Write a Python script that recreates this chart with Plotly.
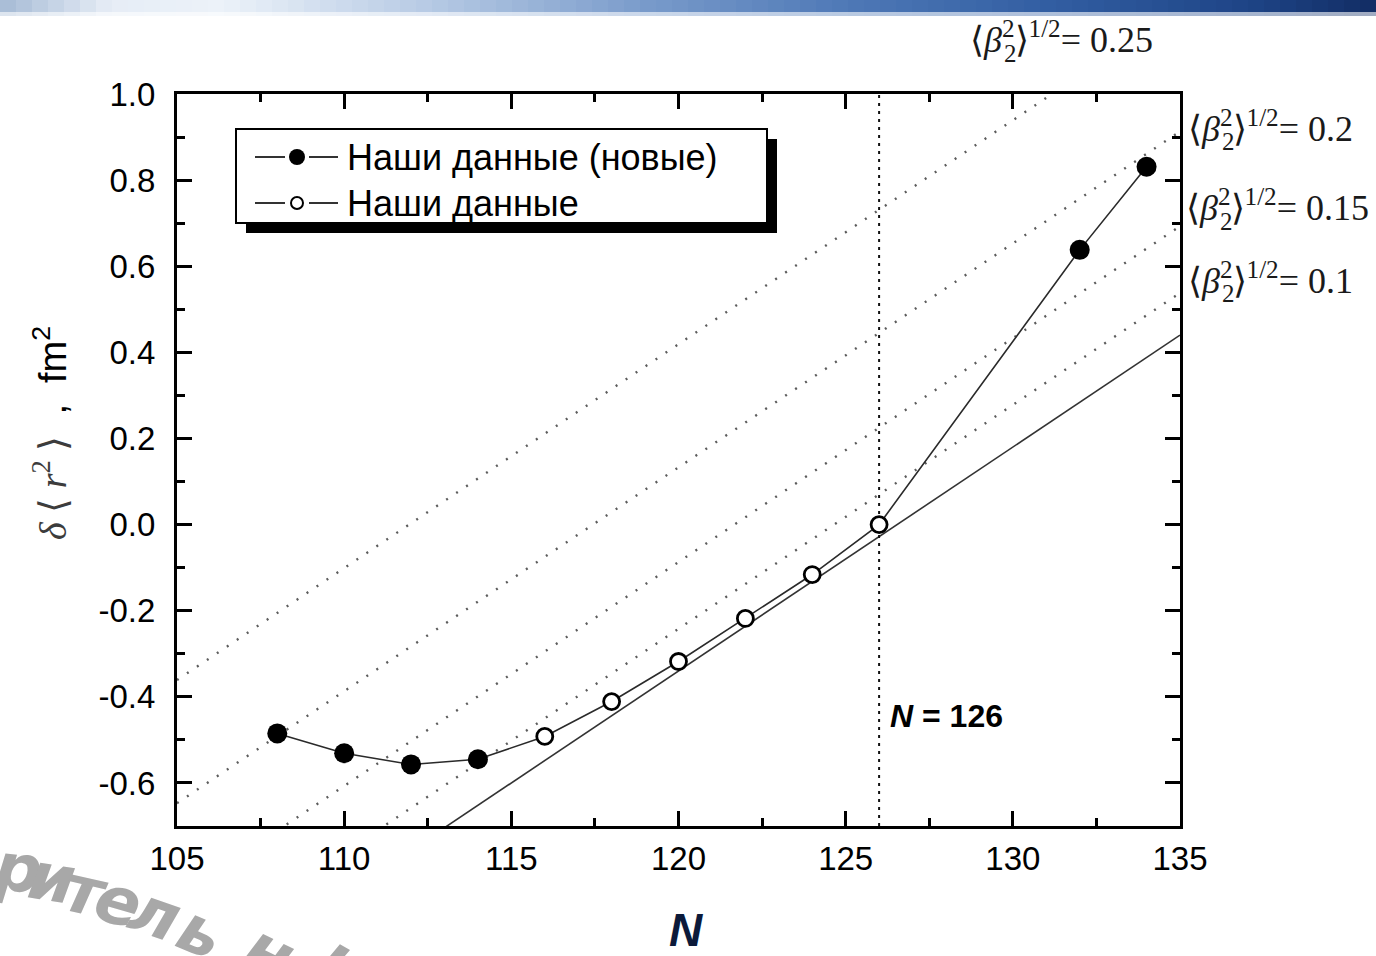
import plotly.graph_objects as go

# ---------------- data ----------------
N_filled = [108, 110, 112, 114, 132, 134]
dr2_filled = [-0.485, -0.531, -0.557, -0.545, 0.638, 0.831]

N_open = [116, 118, 120, 122, 124, 126]
dr2_open = [-0.492, -0.411, -0.318, -0.218, -0.116, 0.000]

N_all = [108, 110, 112, 114, 116, 118, 120, 122, 124, 126, 132, 134]
dr2_all = [-0.485, -0.531, -0.557, -0.545, -0.492, -0.411, -0.318, -0.218, -0.116, 0.000, 0.638, 0.831]

# droplet-model line (beta = 0) and deformation lines, given at N = 105 and 135
N_line = [105, 135]
drop_line = [-1.120, 0.440]
beta_labels = ["0.1", "0.15", "0.2", "0.25"]
beta_lines = {
    "0.1": [-1.022, 0.538],
    "0.15": [-0.867, 0.693],
    "0.2": [-0.647, 0.913],
    "0.25": [-0.361, 1.199],
}

x_ticks = [105, 110, 115, 120, 125, 130, 135]
y_ticks = [-0.6, -0.4, -0.2, 0.0, 0.2, 0.4, 0.6, 0.8, 1.0]
y_ticktext = ["-0.6", "-0.4", "-0.2", "0.0", "0.2", "0.4", "0.6", "0.8", "1.0"]

legend_names = ["Наши данные (новые)", "Наши данные"]
magic_N = 126
watermark = "рительны"

# ---------------- layout helpers ----------------
W, H = 1376, 956
L, R, T, B = 177, 1180, 94, 826


def px(x):
    return (x - L) / (R - L)


def py(y):
    return (B - y) / (B - T)


SANS = "Liberation Sans, Arial, sans-serif"
SERIF = "Liberation Serif, Times New Roman, serif"

fig = go.Figure()

# dotted deformation lines
for b in beta_labels:
    fig.add_trace(go.Scatter(x=N_line, y=beta_lines[b], mode="lines",
                             line=dict(color="#5c5c5c", width=2.4, dash="2px,10px"),
                             showlegend=False, hoverinfo="skip"))
# droplet line
fig.add_trace(go.Scatter(x=N_line, y=drop_line, mode="lines",
                         line=dict(color="#333333", width=1.6),
                         showlegend=False, hoverinfo="skip"))
# N = 126 vertical line
fig.add_trace(go.Scatter(x=[magic_N, magic_N], y=[-0.7, 1.0], mode="lines",
                         line=dict(color="#111111", width=2, dash="3px,5px"),
                         showlegend=False, hoverinfo="skip"))
# connecting line
fig.add_trace(go.Scatter(x=N_all, y=dr2_all, mode="lines",
                         line=dict(color="#2a2a2a", width=1.6),
                         showlegend=False, hoverinfo="skip"))
fig.add_trace(go.Scatter(x=N_filled, y=dr2_filled, mode="markers", name=legend_names[0],
                         marker=dict(size=20, color="black", line=dict(width=0)),
                         showlegend=False))
fig.add_trace(go.Scatter(x=N_open, y=dr2_open, mode="markers", name=legend_names[1],
                         marker=dict(size=16, color="white", line=dict(width=2.8, color="black")),
                         showlegend=False))

shapes = []
# top banner gradient
stops = [(0, (165, 186, 213)), (110, (230, 237, 246)), (220, (236, 242, 249)),
         (420, (185, 204, 229)), (650, (120, 154, 202)), (850, (78, 120, 182)),
         (1050, (50, 94, 162)), (1250, (30, 68, 134)), (1376, (18, 45, 100))]


def col_at(x):
    for (x0, c0), (x1, c1) in zip(stops[:-1], stops[1:]):
        if x0 <= x <= x1:
            t = (x - x0) / (x1 - x0)
            return tuple(int(round(c0[i] + (c1[i] - c0[i]) * t)) for i in range(3))
    return stops[-1][1]


nseg = 86
for i in range(nseg):
    xa = i * W / nseg
    xb = (i + 1) * W / nseg + 0.5
    c = col_at((xa + xb) / 2)
    shapes.append(dict(type="rect", xref="paper", yref="paper", x0=px(xa), x1=px(xb),
                       y0=py(12), y1=py(0), fillcolor="rgb(%d,%d,%d)" % c,
                       line=dict(width=0), layer="below"))
    c2 = tuple(int(round(v + (255 - v) * 0.6)) for v in c)
    shapes.append(dict(type="rect", xref="paper", yref="paper", x0=px(xa), x1=px(xb),
                       y0=py(16), y1=py(12), fillcolor="rgb(%d,%d,%d)" % c2,
                       line=dict(width=0), layer="below"))

# manual legend with shadow
shapes.append(dict(type="rect", xref="paper", yref="paper", x0=px(246), x1=px(777),
                   y0=py(233), y1=py(139), fillcolor="black", line=dict(width=0), layer="above"))
shapes.append(dict(type="rect", xref="paper", yref="paper", x0=px(236), x1=px(767),
                   y0=py(223), y1=py(129), fillcolor="white",
                   line=dict(width=2, color="black"), layer="above"))
for yy in (157, 203):
    for xa, xb in ((255, 285), (309, 338)):
        shapes.append(dict(type="line", xref="paper", yref="paper", x0=px(xa), x1=px(xb),
                           y0=py(yy), y1=py(yy), line=dict(width=1.6, color="black"),
                           layer="above"))
shapes.append(dict(type="circle", xref="paper", yref="paper", xsizemode="pixel",
                   ysizemode="pixel", xanchor=px(297), yanchor=py(157),
                   x0=-8, x1=8, y0=-8, y1=8, fillcolor="black",
                   line=dict(width=0), layer="above"))
shapes.append(dict(type="circle", xref="paper", yref="paper", xsizemode="pixel",
                   ysizemode="pixel", xanchor=px(297), yanchor=py(203),
                   x0=-6, x1=6, y0=-6, y1=6, fillcolor="white",
                   line=dict(width=2, color="black"), layer="above"))

annotations = []
for name, yy in zip(legend_names, (157, 203)):
    annotations.append(dict(text=name, xref="paper", yref="paper", x=px(345), y=py(yy),
                            xanchor="left", yanchor="middle", showarrow=False,
                            font=dict(family=SANS, size=36, color="black")))

# beta labels: <beta_2^2>^{1/2} with stacked sub/superscript
beta_pos = {"0.25": (968, 38), "0.2": (1186, 126), "0.15": (1184, 206), "0.1": (1186, 278)}
for b in beta_labels:
    xx, yy = beta_pos[b]
    annotations.append(dict(
        text="⟨<i>β</i><sup>2</sup>⟩<sup>1/2</sup>= " + b,
        xref="paper", yref="paper", x=px(xx), y=py(yy), xanchor="left", yanchor="middle",
        showarrow=False, font=dict(family=SERIF, size=36, color="#1a1a1a")))
    annotations.append(dict(
        text="2", xref="paper", yref="paper", x=px(xx + 34), y=py(yy + 15),
        xanchor="left", yanchor="middle", showarrow=False,
        font=dict(family=SERIF, size=25, color="#1a1a1a")))

# N = 126 label
annotations.append(dict(text="<b><i>N</i> = %d</b>" % magic_N, xref="paper", yref="paper",
                        x=px(888), y=py(716), xanchor="left", yanchor="middle",
                        showarrow=False, font=dict(family=SANS, size=32, color="black")))

# axis titles
annotations.append(dict(
    text="<span style='font-family:Liberation Serif;color:#3c3c3c'><i>δ</i> ⟨ <i>r</i><sup>2</sup> ⟩</span>  ,  fm<sup>2</sup>",
    xref="paper", yref="paper", x=px(50), y=py(433), xanchor="center", yanchor="middle",
    textangle=-90, showarrow=False, font=dict(family=SANS, size=38, color="black")))
annotations.append(dict(text="<b><i>N</i></b>", xref="paper", yref="paper", x=px(686), y=py(930),
                        xanchor="center", yanchor="middle", showarrow=False,
                        font=dict(family=SANS, size=46, color="#0c1a3a")))

# watermark letters along an arc
wm_pos = [(18, 868, 6), (52, 878, 9), (86, 891, 13), (118, 902, 16),
          (155, 914, 19), (201, 932, 23), (270, 952, 26), (352, 966, 29)]
for ch, (xx, yy, ang) in zip(watermark, wm_pos):
    annotations.append(dict(text="<b><i>%s</i></b>" % ch, xref="paper", yref="paper",
                            x=px(xx), y=py(yy), xanchor="center", yanchor="middle",
                            textangle=ang, showarrow=False,
                            font=dict(family="DejaVu Sans, sans-serif", size=66, color="#a8a8a8")))

fig.update_layout(
    width=W, height=H,
    margin=dict(l=L, r=W - R, t=T, b=H - B, pad=0),
    paper_bgcolor="white", plot_bgcolor="white",
    showlegend=False,
    shapes=shapes, annotations=annotations,
    xaxis=dict(range=[105, 135], tickvals=x_ticks, ticks="inside", ticklen=15, tickwidth=2.5,
               showline=True, linewidth=3, linecolor="black", mirror="allticks",
               showgrid=False, zeroline=False, tickcolor="black",
               tickfont=dict(family=SANS, size=33, color="black"),
               minor=dict(dtick=2.5, tick0=105, ticks="inside", ticklen=8, tickwidth=2.5,
                          tickcolor="black", showgrid=False),
               ticklabelstandoff=1),
    yaxis=dict(range=[-0.7, 1.0], tickvals=y_ticks, ticktext=y_ticktext, ticks="inside",
               ticklen=15, tickwidth=2.5, showline=True, linewidth=3, linecolor="black",
               mirror="allticks", showgrid=False, zeroline=False, tickcolor="black",
               tickfont=dict(family=SANS, size=33, color="black"),
               minor=dict(dtick=0.1, tick0=0, ticks="inside", ticklen=8, tickwidth=2.5,
                          tickcolor="black", showgrid=False),
               ticklabelstandoff=12),
)

fig.write_html("out.html", config={"displayModeBar": False},
               post_script="document.body.style.margin='0px';document.body.style.overflow='hidden';")
